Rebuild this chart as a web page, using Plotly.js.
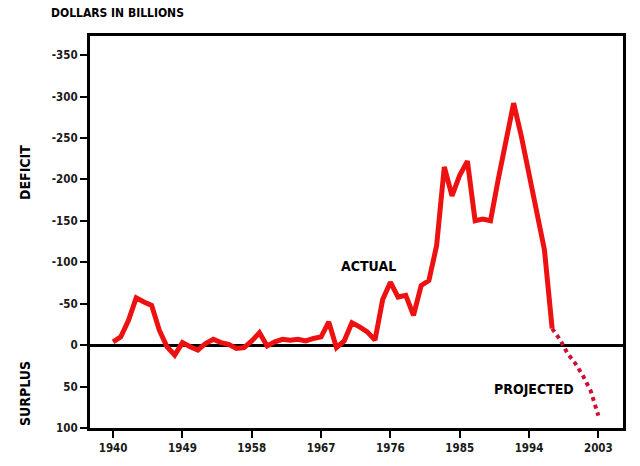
<!DOCTYPE html>
<html>
<head>
<meta charset="utf-8">
<script src="https://cdn.plot.ly/plotly-3.0.1.min.js"></script>
<style>
html,body{margin:0;padding:0;background:#fff;}
#chart{width:640px;height:466px;}
</style>
</head>
<body>
<div id="chart"></div>
<script>
// Budget balance, dollars in billions (deficit negative, surplus positive)
const actualYears = [1940,1941,1942,1943,1944,1945,1946,1947,1948,1949,
  1950,1951,1952,1953,1954,1955,1956,1957,1958,1959,
  1960,1961,1962,1963,1964,1965,1966,1967,1968,1969,
  1970,1971,1972,1973,1974,1975,1976,1977,1978,1979,
  1980,1981,1982,1983,1984,1985,1986,1987,1988,1989,
  1990,1991,1992,1993,1994,1995,1996,1997];
const actualValues = [-4,-10,-30,-57,-52,-48,-18,2,12,-3,
  2,6,-2,-7,-3,-1,4,3,-5,-15,
  1,-4,-7,-6,-7,-5,-8,-10,-28,3,
  -5,-27,-22,-16,-6,-55,-76,-58,-60,-36,
  -72,-78,-120,-215,-180,-205,-222,-150,-152,-150,
  -200,-250,-292,-252,-208,-166,-115,-20];
const projectedYears = [1997,1998,1999,2000,2001,2002,2003];
const projectedValues = [-20,-7,10,22,37,55,85];
const xTicks = [1940,1949,1958,1967,1976,1985,1994,2003];
const yTicks = [-350,-300,-250,-200,-150,-100,-50,0,50,100];
const yTickText = ['-350','-300','-250','-200','-150','-100','-50','0','50','100'];

const fam = '"DejaVu Sans Condensed","Liberation Sans Narrow",sans-serif';
const tickFont = {family:fam, size:11.5, color:'#1a1a1a', weight:'bold'};
const labelFont = {family:fam, size:14, color:'#000', weight:'bold'};

const traces = [
  {x:actualYears, y:actualValues, type:'scatter', mode:'lines',
   line:{color:'#ee1111', width:5}, hoverinfo:'skip'},
  {x:projectedYears, y:projectedValues, type:'scatter', mode:'lines',
   line:{color:'#cc1133', width:4, dash:'dot'}, hoverinfo:'skip'}
];

const layout = {
  width:640, height:466,
  margin:{l:90, r:17, t:36, b:38},
  paper_bgcolor:'#fff', plot_bgcolor:'#fff',
  showlegend:false,
  xaxis:{range:[1937.0, 2006.2], tickvals:xTicks, ticktext:xTicks.map(String),
    ticks:'outside', ticklen:7, tickwidth:2, tickcolor:'#000',
    showline:true, linewidth:3, linecolor:'#000', mirror:true,
    showgrid:false, zeroline:false, tickfont:tickFont, fixedrange:true},
  yaxis:{range:[100, -373], tickvals:yTicks, ticktext:yTickText,
    ticks:'outside', ticklen:7, tickwidth:2, tickcolor:'#000',
    showline:true, linewidth:3, linecolor:'#000', mirror:true,
    showgrid:false, zeroline:true, zerolinewidth:3, zerolinecolor:'#000',
    tickfont:tickFont, fixedrange:true},
  annotations:[
    {text:'DOLLARS IN BILLIONS', xref:'paper', yref:'paper', x:-0.077, y:1.058,
     xanchor:'left', yanchor:'middle', showarrow:false, font:{...labelFont, size:12}},
    {text:'DEFICIT', xref:'paper', yref:'paper', x:-0.122, y:0.653,
     xanchor:'center', yanchor:'middle', textangle:-90, showarrow:false, font:labelFont},
    {text:'SURPLUS', xref:'paper', yref:'paper', x:-0.122, y:0.089,
     xanchor:'center', yanchor:'middle', textangle:-90, showarrow:false, font:labelFont},
    {text:'ACTUAL', xref:'x', yref:'y', x:1973.1, y:-95,
     xanchor:'center', yanchor:'middle', showarrow:false, font:labelFont},
    {text:'PROJECTED', xref:'x', yref:'y', x:1994.6, y:53,
     xanchor:'center', yanchor:'middle', showarrow:false, font:labelFont}
  ]
};

Plotly.newPlot('chart', traces, layout, {staticPlot:true, displayModeBar:false});
</script>
</body>
</html>
